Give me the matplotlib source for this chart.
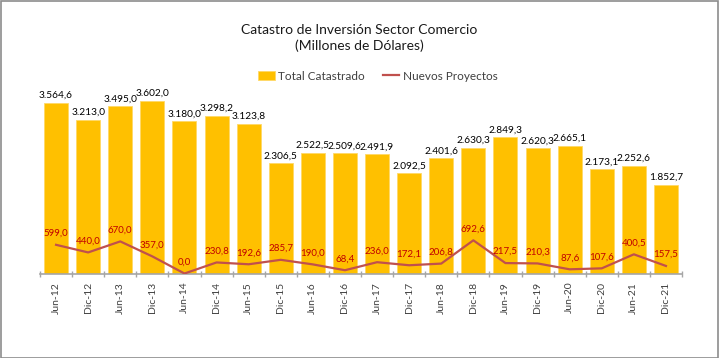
import matplotlib.pyplot as plt
import numpy as np
from matplotlib.patches import Rectangle

plt.rcParams['font.family'] = ['Lato', 'DejaVu Sans']

# periods shown on the x axis
periodos = ["Jun-12", "Dic-12", "Jun-13", "Dic-13", "Jun-14", "Dic-14", "Jun-15",
            "Dic-15", "Jun-16", "Dic-16", "Jun-17", "Dic-17", "Jun-18", "Dic-18",
            "Jun-19", "Dic-19", "Jun-20", "Dic-20", "Jun-21", "Dic-21"]

# millions of dollars
total_catastrado = [3564.6, 3213.0, 3495.0, 3602.0, 3180.0, 3298.2, 3123.8,
                    2306.5, 2522.5, 2509.6, 2491.9, 2092.5, 2401.6, 2630.3,
                    2849.3, 2620.3, 2665.1, 2173.1, 2252.6, 1852.7]
nuevos_proyectos = [599.0, 440.0, 670.0, 357.0, 0.0, 230.8, 192.6, 285.7,
                    190.0, 68.4, 236.0, 172.1, 206.8, 692.6, 217.5, 210.3,
                    87.6, 107.6, 400.5, 157.5]


def fmt(v):
    # spanish style: 3.564,6
    s = f"{v:,.1f}"
    return s.replace(",", "X").replace(".", ",").replace("X", ".")


fig = plt.figure(figsize=(7.19, 3.58), dpi=100)
fig.patches.append(Rectangle((0.001, 0.001), 0.997, 0.996, transform=fig.transFigure,
                             fill=False, edgecolor="#8c8c8c", linewidth=1.2))

ax = fig.add_axes([40 / 719, (358 - 273.5) / 358, 642 / 719, 191.6 / 358])
x = np.arange(len(periodos))

bars = ax.bar(x, total_catastrado, width=0.75, color="#FFC000", edgecolor="#FFD966",
              linewidth=0.6, label="Total Catastrado", zorder=2)
line, = ax.plot(x, nuevos_proyectos, color="#C0504D", linewidth=1.6,
                label="Nuevos Proyectos", zorder=3)

for xi, v in zip(x, total_catastrado):
    ax.annotate(fmt(v), (xi, v), xytext=(0, 2), textcoords="offset points",
                ha="center", va="bottom", fontsize=7.3, color="black")
for xi, v in zip(x, nuevos_proyectos):
    ax.annotate(fmt(v), (xi, v), xytext=(0, 5), textcoords="offset points",
                ha="center", va="bottom", fontsize=7, color="#C00000", zorder=4)

ax.set_xlim(-0.5, len(periodos) - 0.5)
ax.set_ylim(0, 4000)
ax.set_yticks([])
for s in ["top", "right", "left"]:
    ax.spines[s].set_visible(False)
ax.spines["bottom"].set_color("#a6a6a6")
ax.spines["bottom"].set_linewidth(1.2)

ax.set_xticks(x)
ax.set_xticklabels(periodos, rotation=90, fontsize=7.5, color="#404040")
ax.tick_params(axis="x", which="major", length=0, pad=6)
ax.set_xticks(np.arange(-0.5, len(periodos)), minor=True)
ax.tick_params(axis="x", which="minor", length=5, direction="inout",
               color="#a6a6a6", width=1)

fig.text(0.5, 1 - 30 / 358, "Catastro de Inversión Sector Comercio",
         ha="center", va="center", fontsize=10, color="#1a1a1a")
fig.text(0.5, 1 - 46 / 358, "(Millones de Dólares)",
         ha="center", va="center", fontsize=10, color="#1a1a1a")

fig.legend([bars, line], ["Total Catastrado", "Nuevos Proyectos"],
           loc="center", bbox_to_anchor=(378 / 719, 1 - 76 / 358), ncol=2,
           frameon=False, fontsize=8.5, handlelength=1.4, handleheight=0.8,
           handletextpad=0.3, columnspacing=1.5, labelcolor="#404040")

fig.savefig("out.png", dpi=100)
